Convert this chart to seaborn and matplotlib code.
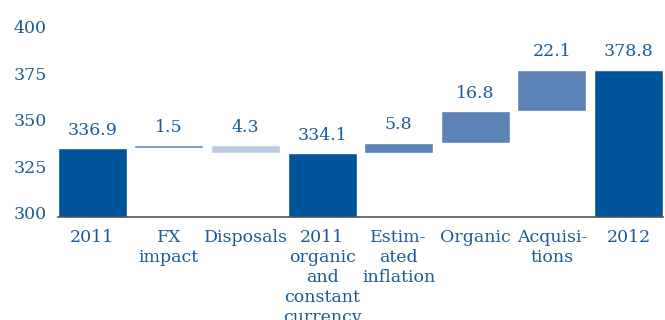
import numpy as np
import pandas as pd
import seaborn as sns
import matplotlib.pyplot as plt
import matplotlib.transforms as mtransforms

# Waterfall data
categories = ["2011", "FX\nimpact", "Disposals",
              "2011\norganic\nand\nconstant\ncurrency",
              "Estim-\nated\ninflation", "Organic", "Acquisi-\ntions", "2012"]
changes = [336.9, 1.5, -4.3, 334.1, 5.8, 16.8, 22.1, 378.8]
kinds = ["total", "increase", "decrease", "total",
         "increase", "increase", "increase", "total"]
value_labels = ["336.9", "1.5", "4.3", "334.1", "5.8", "16.8", "22.1", "378.8"]

# Compute floating bar ends
tops, bases = [], []
running = 0.0
for ch, kind in zip(changes, kinds):
    if kind == "total":
        running = ch
        tops.append(ch)
        bases.append(0.0)
    else:
        end = running + ch
        tops.append(max(running, end))
        bases.append(min(running, end))
        running = end

df = pd.DataFrame({"category": categories, "top": tops, "base": bases, "kind": kinds})

dark = "#00549a"
mid = "#5b83b6"
light = "#bccbe3"
text_col = "#1b5b99"
palette = {"total": dark, "increase": mid, "decrease": light}

sns.set_style("white")
plt.rcParams["font.family"] = ["DejaVu Serif"]

fig, ax = plt.subplots(figsize=(6.65, 3.2), dpi=100)
fig.subplots_adjust(left=0.087, right=0.997, top=0.905, bottom=0.322)

sns.barplot(data=df, x="category", y="top", hue="kind", palette=palette,
            dodge=False, width=0.9, legend=False, saturation=1, ax=ax)
sns.barplot(data=df, x="category", y="base", color="white",
            width=0.92, saturation=1, ax=ax)

for i, (t, lab) in enumerate(zip(tops, value_labels)):
    ax.annotate(lab, (i, t), xytext=(0, 13), textcoords="offset points",
                ha="center", va="center", fontsize=12.5, color=text_col,
                annotation_clip=False)

ax.set_ylim(300, 400)
ax.set_xlim(-0.45, 7.45)
ax.set_yticks([300, 325, 350, 375, 400])
ax.set_xlabel("")
ax.set_ylabel("")
ax.tick_params(axis="both", length=0, labelsize=12.5, labelcolor=text_col)
ax.tick_params(axis="x", pad=9)
ax.tick_params(axis="y", pad=8)
for lab in ax.get_xticklabels():
    lab.set_linespacing(1.22)
offset = mtransforms.ScaledTranslation(0, 4 / 100, fig.dpi_scale_trans)
for lab in ax.get_yticklabels():
    lab.set_transform(lab.get_transform() + offset)

sns.despine(ax=ax, left=True)
ax.spines["bottom"].set_color("#555555")
ax.spines["bottom"].set_linewidth(1.2)
ax.spines["bottom"].set_zorder(5)

plt.savefig("out.png", dpi=100)
